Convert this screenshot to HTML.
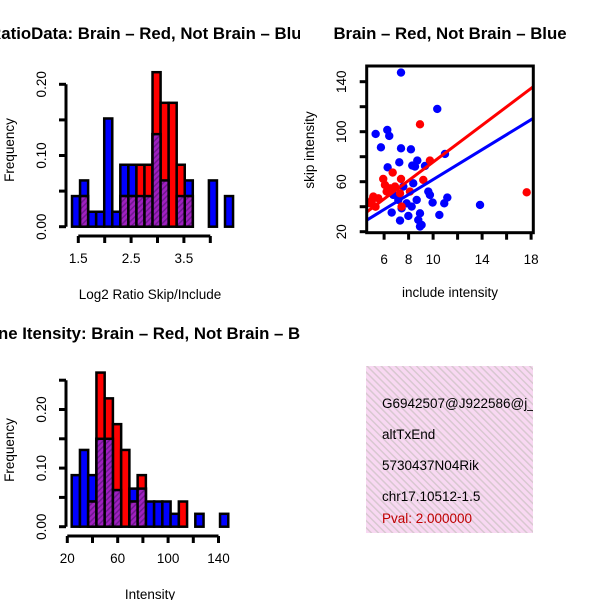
<!DOCTYPE html>
<html><head><meta charset="utf-8"><style>
html,body{margin:0;padding:0;background:#fff;}
svg{display:block;font-family:"Liberation Sans",sans-serif;}
</style></head><body>
<svg id="s" width="600" height="600" viewBox="0 0 600 600" xmlns="http://www.w3.org/2000/svg">
<defs>
<pattern id="hatch" patternUnits="userSpaceOnUse" width="4" height="4" patternTransform="rotate(45)">
<rect width="4" height="4" fill="#a020c0"/><rect width="1.5" height="4" fill="#701890"/>
</pattern>
<pattern id="pink" patternUnits="userSpaceOnUse" width="5" height="5" patternTransform="rotate(-45)">
<rect width="5" height="5" fill="#f8d8f2"/><rect width="1.5" height="5" fill="#d8c8d0"/>
</pattern>
<clipPath id="boxclip"><rect x="366" y="366" width="167" height="167"/></clipPath>
<clipPath id="q1"><rect x="0" y="0" width="300" height="300"/></clipPath>
<clipPath id="q3"><rect x="0" y="300" width="300" height="300"/></clipPath>
</defs>
<text x="150" y="39" font-size="16.8" font-weight="bold" text-anchor="middle" clip-path="url(#q1)">RatioData: Brain – Red, Not Brain – Blue</text>
<text x="450" y="39" font-size="16.8" font-weight="bold" text-anchor="middle">Brain – Red, Not Brain – Blue</text>
<text x="150" y="339" font-size="16.8" font-weight="bold" text-anchor="middle" clip-path="url(#q3)">Gene Itensity: Brain – Red, Not Brain – Blue</text>
<g id="tl"></g>
<g id="tr"></g>
<g id="bl"></g>
<g clip-path="url(#boxclip)">
<rect x="366" y="366" width="167" height="167" fill="url(#pink)"/>
<text x="382" y="408" font-size="13.5">G6942507@J922586@j_</text>
<text x="382" y="439" font-size="13.5">altTxEnd</text>
<text x="382" y="470" font-size="13.5">5730437N04Rik</text>
<text x="382" y="501" font-size="13.5">chr17.10512-1.5</text>
<text x="382" y="523" font-size="13.5" fill="#c00000">Pval: 2.000000</text>
</g>
</svg>
<script>
// ---- Ratio histogram data ----
const ratioBlue = [0.043,0.065,0.021,0.021,0.152,0.021,0.087,0.087,0.043,0.043,0.130,0.065,0,0.043,0.065,0,0,0.065,0,0.043];
const ratioRed  = [0,0.043,0,0,0,0,0.043,0.043,0.087,0.087,0.217,0.174,0.174,0.087,0.043,0,0,0,0,0];
const ratioXTicks = [1.5,2,2.5,3,3.5,4];
const ratioXLabels = ["1.5","","2.5","","3.5",""];
const ratioYTicks = [0,0.05,0.1,0.15,0.2];
const ratioYLabels = ["0.00","","0.10","","0.20"];
// ---- Intensity histogram data ----
const intBlue = [0.088,0.131,0.088,0.150,0.150,0.0625,0,0.065,0.065,0.043,0.043,0.043,0.022,0,0,0.022,0,0,0.022];
const intRed  = [0,0,0.043,0.263,0.219,0.175,0.131,0.043,0.088,0,0,0,0,0.043,0,0,0,0,0];
const intXTicks = [20,40,60,80,100,120,140];
const intXLabels = ["20","","60","","100","","140"];
const intYTicks = [0,0.05,0.1,0.15,0.2,0.25];
const intYLabels = ["0.00","","0.10","","0.20",""];
// ---- Scatter data ----
const blueX = [7.38,10.34,5.31,6.26,6.42,5.74,7.38,8.19,10.97,7.24,8.71,8.30,9.34,6.29,8.52,7.57,8.38,9.61,9.74,11.16,10.91,9.96,13.83,6.62,10.51,7.30,7.98,8.93,9.06,8.79,7.84,7.16,8.66,6.75,8.25,7.43,8.93];
const blueY = [147.3,118.2,98.2,101.4,96.6,87.5,86.7,85.9,82.2,75.5,76.9,72.9,72.6,71.5,72.1,56.1,58.7,52.1,49.4,47.3,42.7,43.3,41.4,35.3,33.4,28.9,32.6,34.7,25.4,29.4,42.7,45.4,45.4,49.4,40.1,38.7,24.1];
const redX = [8.93,9.74,6.70,5.93,7.38,6.07,6.48,6.89,9.20,5.12,5.53,4.85,7.30,7.43,17.64,8.11,6.21,5.0,5.3];
const redY = [105.9,76.9,67.3,62.2,62.2,57.4,54.7,56.1,61.4,48.1,46.7,42.7,50.7,40.1,51.5,52.1,52.1,45.0,40.0];
const fitIntercepts = [2.0,1.8]; // red, blue
const fitSlopes = [7.37,5.99];
const scXTicks = [6,8,10,12,14,16,18];
const scXLabels = ["6","8","10","","14","","18"];
const scYTicks = [20,40,60,80,100,120,140];
const scYLabels = ["20","","60","","100","","140"];

const NS="http://www.w3.org/2000/svg";
const FS=13.5;
function mk(parent,tag,attrs){const e=document.createElementNS(NS,tag);for(const k in attrs)e.setAttribute(k,attrs[k]);parent.appendChild(e);return e;}

function hist(g,blue,red,x0,binW,xs,ys,xTicks,xLabels,yTicks,yLabels,axX,axY,xTitle,prefix){
  for(let i=0;i<blue.length;i++){
    const xa=xs(x0+i*binW), xb=xs(x0+(i+1)*binW);
    if(blue[i]>0){const r=mk(g,'rect',{x:xa,y:ys(blue[i]),width:xb-xa,height:ys(0)-ys(blue[i]),fill:'#0000ff',stroke:'#000','stroke-width':2.5});
      
      }
    if(red[i]>0){const r=mk(g,'rect',{x:xa,y:ys(red[i]),width:xb-xa,height:ys(0)-ys(red[i]),fill:'#ff0000',stroke:'#000','stroke-width':2.5});
      
      }
  }
  for(let i=0;i<blue.length;i++){
    const m=Math.min(blue[i],red[i]); if(m<=0)continue;
    const xa=xs(x0+i*binW), xb=xs(x0+(i+1)*binW);
    const r=mk(g,'rect',{x:xa,y:ys(m),width:xb-xa,height:ys(0)-ys(m),fill:'url(#hatch)',stroke:'#000','stroke-width':2.5});
    
    
  }
  const ya=mk(g,'line',{x1:axX,x2:axX,y1:ys(yTicks[0]),y2:ys(yTicks[yTicks.length-1]),stroke:'#000','stroke-width':3});
  
  
  yTicks.forEach((t,i)=>{mk(g,'line',{x1:axX-7,x2:axX,y1:ys(t),y2:ys(t),stroke:'#000','stroke-width':3});
    if(yLabels[i]){const tx=mk(g,'text',{x:0,y:0,'font-size':FS,'text-anchor':'middle',transform:`translate(${axX-20},${ys(t)}) rotate(-90)`});tx.textContent=yLabels[i];
      
      }});
  const xa=mk(g,'line',{x1:xs(xTicks[0]),x2:xs(xTicks[xTicks.length-1]),y1:axY,y2:axY,stroke:'#000','stroke-width':3});
  
  
  xTicks.forEach((t,i)=>{mk(g,'line',{x1:xs(t),x2:xs(t),y1:axY,y2:axY+7,stroke:'#000','stroke-width':3});
    if(xLabels[i]){const tx=mk(g,'text',{x:xs(t),y:axY+27,'font-size':FS,'text-anchor':'middle'});tx.textContent=xLabels[i];
      
      }});
  const yt=mk(g,'text',{x:0,y:0,'font-size':FS,'text-anchor':'middle',transform:`translate(14,${axY-86}) rotate(-90)`});yt.textContent='Frequency';
  
  
  const xt=mk(g,'text',{x:150,y:axY+63,'font-size':FS,'text-anchor':'middle'});xt.textContent=xTitle;
  
  
}
hist(document.getElementById('tl'),ratioBlue,ratioRed,1.381,0.1525,
  v=>78.3+(v-1.5)*52.8, v=>226.7-v*712, ratioXTicks,ratioXLabels,ratioYTicks,ratioYLabels,66,236,'Log2 Ratio Skip/Include','ratio');
hist(document.getElementById('bl'),intBlue,intRed,23.5,6.54,
  v=>67.3+(v-20)*1.26, v=>526.7-v*586, intXTicks,intXLabels,intYTicks,intYLabels,66,536,'Intensity','intensity');

(function(){
  const g=document.getElementById('tr');
  const xs=v=>359.6+(v-4)*12.25, ys=v=>231.7-(v-20)*1.25;
  const x0=366.7,x1=533.3,y0=66,y1=232.7;
  blueX.forEach((x,i)=>{const c=mk(g,'circle',{cx:xs(x),cy:ys(blueY[i]),r:4.2,fill:'#0000ff'});
    
    });
  redX.forEach((x,i)=>{const c=mk(g,'circle',{cx:xs(x),cy:ys(redY[i]),r:4.2,fill:'#ff0000'});
    
    });
  const cols=['#ff0000','#0000ff'], names=['red-fit-line','blue-fit-line'];
  const xa=4+(x0-359.6)/12.25, xb=4+(x1-359.6)/12.25;
  fitSlopes.forEach((s,i)=>{const l=mk(g,'line',{x1:xs(xa),y1:ys(fitIntercepts[i]+s*xa),x2:xs(xb),y2:ys(fitIntercepts[i]+s*xb),stroke:cols[i],'stroke-width':3});
    
    });
  const box=mk(g,'rect',{x:x0,y:y0,width:x1-x0,height:y1-y0,fill:'none',stroke:'#000','stroke-width':3});
  
  
  scXTicks.forEach((t,i)=>{mk(g,'line',{x1:xs(t),x2:xs(t),y1:y1,y2:y1+7,stroke:'#000','stroke-width':3});
    if(scXLabels[i]){const tx=mk(g,'text',{x:xs(t),y:264,'font-size':FS,'text-anchor':'middle'});tx.textContent=scXLabels[i];
      
      }});
  scYTicks.forEach((t,i)=>{mk(g,'line',{x1:x0-7,x2:x0,y1:ys(t),y2:ys(t),stroke:'#000','stroke-width':3});
    if(scYLabels[i]){const tx=mk(g,'text',{x:0,y:0,'font-size':FS,'text-anchor':'middle',transform:`translate(346,${ys(t)}) rotate(-90)`});tx.textContent=scYLabels[i];
      
      }});
  const xt=mk(g,'text',{x:450,y:297,'font-size':FS,'text-anchor':'middle'});xt.textContent='include intensity';
  
  
  const yt=mk(g,'text',{x:0,y:0,'font-size':FS,'text-anchor':'middle',transform:'translate(314,150) rotate(-90)'});yt.textContent='skip intensity';
  
  
})();
</script>
</body></html>
